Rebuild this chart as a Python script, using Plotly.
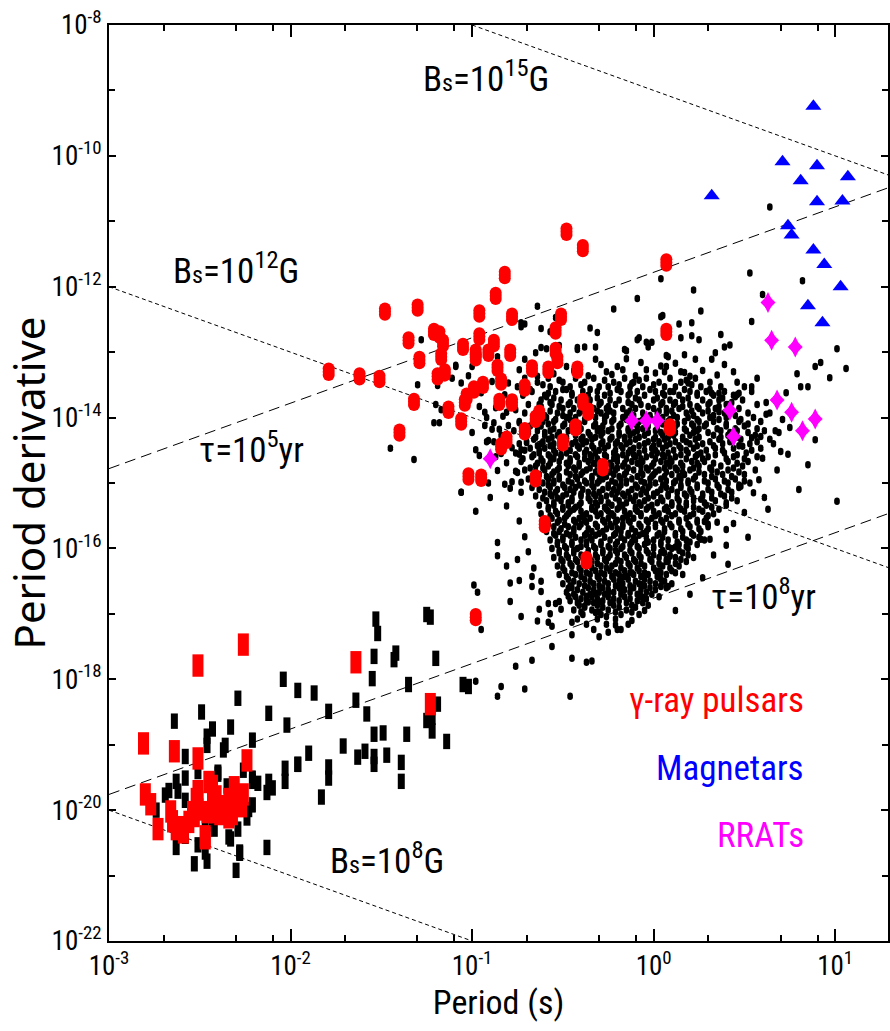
import plotly.graph_objects as go

# ---------------- data (log10 values) ----------------
magnetar_logP = [0.88, 0.71, 0.90, 0.81, 1.07, 0.32, 0.90, 1.04, 0.74, 0.76, 0.88, 0.94, 1.03, 0.85, 0.93]
magnetar_logPdot = [-9.24, -10.09, -10.15, -10.38, -10.32, -10.61, -10.70, -10.69, -11.07, -11.21, -11.44, -11.66, -12.00, -12.29, -12.55]

rrat_logP = [0.63, 0.65, 0.78, 0.68, 0.76, 0.89, 0.82, 0.42, 0.44, -0.12, -0.04, 0.02, -0.90]
rrat_logPdot = [-12.24, -12.82, -12.92, -13.73, -13.92, -14.02, -14.20, -13.89, -14.29, -14.05, -14.05, -14.05, -14.63]

gamma_young = [
    (-1.48, -12.38), (-1.30, -12.32), (-0.82, -11.82), (-0.87, -12.14), (-0.96, -12.41), (-0.78, -12.46),
    (-1.35, -12.82), (-1.21, -12.69), (-1.18, -12.73), (-1.16, -12.86), (-1.29, -13.12), (-1.17, -13.07),
    (-1.19, -13.37), (-1.15, -13.31), (-1.05, -12.92), (-0.96, -12.76), (-0.98, -13.01), (-0.98, -13.08),
    (-0.91, -13.01), (-0.88, -12.86), (-0.79, -13.01), (-0.86, -13.24), (-0.84, -13.45), (-0.71, -13.54),
    (-0.94, -13.50), (-0.99, -13.57), (-1.03, -13.68), (-1.04, -13.77), (-0.85, -13.76), (-0.78, -13.77),
    (-1.13, -13.88), (-1.06, -14.06), (-1.32, -13.76), (-1.79, -13.30), (-1.62, -13.37), (-1.51, -13.41),
    (-1.40, -14.23), (-0.71, -14.21), (-0.81, -14.34), (-0.84, -14.44), (-1.02, -14.90), (-0.95, -14.92),
    (-0.48, -11.16), (-0.39, -11.41), (0.07, -11.63), (-0.51, -12.46), (-0.54, -12.67), (0.07, -12.69),
    (-0.54, -12.98), (-0.53, -13.12), (-0.67, -13.25), (-0.58, -13.27), (-0.42, -13.27), (-0.39, -13.76),
    (-0.36, -13.91), (-0.63, -13.94), (-0.65, -14.02), (-0.43, -14.15), (0.09, -14.15), (-0.50, -14.38),
    (-0.28, -14.76), (-0.65, -14.93), (-0.60, -15.63), (-0.37, -16.18), (-0.98, -17.05),
]

gamma_msp = [
    (-2.26, -17.47), (-2.51, -17.79), (-1.64, -17.74), (-1.23, -18.38), (-2.81, -18.98), (-2.64, -19.10),
    (-2.51, -19.21), (-2.24, -19.24), (-2.80, -19.76), (-2.77, -19.91), (-2.73, -20.29), (-2.47, -20.43),
    (-2.66, -20.02), (-2.65, -20.17), (-2.61, -20.26), (-2.59, -20.34), (-2.52, -19.83), (-2.51, -19.71),
    (-2.51, -19.99), (-2.53, -20.09), (-2.47, -20.40), (-2.43, -19.63), (-2.43, -19.88), (-2.42, -20.03),
    (-2.46, -20.03), (-2.36, -19.94), (-2.39, -20.06), (-2.31, -19.65), (-2.30, -19.80), (-2.27, -19.94),
    (-2.32, -20.06), (-2.34, -20.11), (-2.29, -19.86), (-2.26, -19.76), (-2.34, -19.83), (-2.41, -19.79),
    (-2.54, -20.03), (-2.56, -20.18), (-2.63, -20.29), (-2.45, -19.57),
]

msp = [
    (-1.53, -17.08), (-1.52, -17.30), (-1.25, -17.01), (-1.23, -17.05), (-1.54, -17.65), (-1.42, -17.60),
    (-1.43, -17.70), (-1.20, -17.68), (-2.04, -18.00), (-1.96, -18.17), (-1.87, -18.21), (-2.29, -18.29),
    (-1.55, -17.99), (-1.35, -18.08), (-1.05, -18.08), (-1.02, -18.11), (-2.49, -18.50), (-2.12, -18.52),
    (-2.64, -18.64), (-1.64, -18.32), (-1.58, -18.53), (-1.19, -18.38), (-2.43, -18.76), (-2.33, -18.73),
    (-2.46, -18.87), (-2.46, -19.01), (-2.36, -19.01), (-2.37, -19.08), (-2.21, -18.93), (-2.02, -18.70),
    (-1.79, -18.49), (-1.54, -18.84), (-1.49, -18.82), (-1.36, -18.84), (-1.25, -18.63), (-1.22, -18.58),
    (-1.22, -18.79), (-1.14, -18.95), (-1.71, -19.02), (-1.63, -19.19), (-1.59, -19.10), (-1.54, -19.18),
    (-1.54, -19.30), (-1.47, -19.16), (-1.39, -19.27), (-1.39, -19.56), (-1.90, -19.13), (-1.96, -19.30),
    (-1.79, -19.34), (-1.79, -19.51), (-1.83, -19.80), (-2.03, -19.36), (-2.03, -19.56), (-2.12, -19.56),
    (-2.18, -19.59), (-2.21, -19.56), (-2.26, -19.39), (-2.40, -19.42), (-2.58, -19.18), (-2.58, -19.51),
    (-2.63, -19.56), (-2.67, -19.70), (-2.69, -19.77), (-2.62, -19.71), (-2.58, -19.85), (-2.74, -20.00),
    (-2.21, -19.92), (-2.23, -19.99), (-2.24, -20.12), (-2.42, -20.29), (-2.33, -20.44), (-2.13, -20.57),
    (-2.28, -20.66), (-2.63, -20.57), (-2.58, -20.40), (-2.51, -20.53), (-2.47, -20.64), (-2.46, -20.78),
    (-2.53, -20.82), (-2.30, -20.92), (-2.51, -19.41), (-2.52, -19.83), (-2.47, -20.24), (-2.13, -19.73),
    (-2.10, -19.66), (-1.96, -19.30), (-2.28, -20.64), (-2.29, -20.29), (-2.34, -20.41), (-2.21, -19.51),
    (-2.35, -19.63), (-2.40, -19.45), (-2.50, -19.83), (-2.43, -20.21),
]

normal_sparse = [
    (0.64, -10.78), (0.53, -11.79), (0.82, -11.91), (0.60, -12.12), (0.04, -11.88), (0.22, -12.05),
    (-0.09, -12.18), (0.26, -12.37), (0.04, -12.46), (0.54, -12.53), (0.14, -12.57), (0.21, -12.55),
    (-0.08, -12.78), (0.07, -13.05), (0.15, -12.78), (0.21, -12.75), (0.25, -12.81), (0.37, -12.73),
    (0.42, -12.89), (0.39, -12.92), (0.34, -13.01), (0.32, -13.11), (0.39, -13.19), (0.23, -13.11),
    (1.01, -12.95), (1.06, -13.25), (0.92, -13.16), (0.89, -13.22), (0.97, -13.39), (0.79, -13.33),
    (0.81, -13.53), (0.85, -13.53), (0.57, -13.40), (0.54, -13.53), (0.62, -13.77), (0.59, -14.29),
    (0.54, -14.31), (0.49, -14.44), (0.70, -14.52), (0.67, -14.20), (0.69, -14.23), (0.73, -13.62),
    (0.32, -13.63), (0.36, -13.63), (0.40, -13.80), (0.36, -13.91), (0.45, -13.68), (0.50, -13.53),
    (0.46, -13.65), (0.17, -13.31), (0.09, -13.60), (0.07, -13.22), (-0.01, -12.85), (-0.03, -12.92),
    (-0.15, -13.10), (-0.07, -13.16), (-0.04, -13.27), (-0.17, -13.27), (-0.12, -13.48),
    (-0.64, -12.30), (-0.22, -12.34), (-0.73, -12.61), (-0.71, -12.57), (-0.62, -12.64), (-0.35, -12.63),
    (-0.31, -12.70), (-0.57, -12.69), (-0.32, -12.92), (-0.38, -12.92), (-0.42, -12.93), (-0.62, -12.93),
    (-0.65, -13.01), (-0.04, -12.85), (-0.15, -12.98), (0.17, -13.04), (0.08, -13.07), (0.06, -13.30),
    (0.15, -13.30), (0.19, -13.47), (-0.54, -12.47), (-0.52, -12.90), (-0.59, -12.95), (-0.48, -13.22),
    (-0.42, -12.96), (-0.32, -13.11), (-0.26, -13.30), (-0.20, -13.22), (-0.16, -12.96), (-0.09, -12.81),
    (0.05, -12.44), (0.04, -13.21), (0.20, -13.37),
    (-1.28, -12.81), (-1.30, -13.50), (-1.45, -14.47), (-1.32, -14.64), (-1.21, -14.08), (-1.18, -14.08),
    (-1.19, -13.51), (-1.17, -13.88), (-1.09, -13.22), (-1.02, -13.36), (-1.00, -14.23), (-0.98, -14.49),
    (-0.92, -14.37), (-0.88, -14.37), (-0.87, -14.60), (-0.82, -15.02), (-1.06, -15.14), (-0.90, -15.22),
    (-0.76, -14.82), (-0.73, -13.53), (-0.74, -13.27), (-0.71, -13.11), (-0.73, -12.55), (-0.64, -13.37),
    (-0.63, -13.80), (-0.59, -13.68), (-0.68, -13.57), (-0.58, -13.30), (-0.48, -13.57), (-1.11, -13.40),
    (-1.09, -13.20), (-1.06, -13.47), (-1.00, -13.22), (-1.20, -13.80), (-0.91, -14.35), (-0.89, -14.18),
    (-0.85, -14.18), (-0.81, -14.69), (-0.75, -14.84), (-0.73, -14.99), (-0.73, -15.14), (-0.74, -14.56),
    (-0.73, -14.49), (-0.70, -14.38), (-0.81, -13.92), (-0.76, -13.88), (-0.74, -14.08), (-0.92, -14.00),
    (-0.96, -13.83), (-0.93, -13.92), (-0.88, -14.08), (-0.82, -13.65), (-0.80, -13.47), (-0.86, -13.07),
    (-0.89, -13.45), (-0.80, -13.77),
    (-1.06, -15.14), (-0.98, -15.43), (-0.95, -17.24), (-0.99, -16.56), (-0.97, -16.67), (-0.86, -15.91),
    (-0.86, -16.11), (-0.81, -16.27), (-0.75, -16.17), (-0.79, -16.53), (-0.74, -16.49), (-0.79, -16.81),
    (-0.73, -17.04), (-0.67, -16.43), (-0.67, -16.58), (-0.62, -16.50), (-0.63, -16.93), (-0.64, -17.11),
    (-0.58, -16.84), (-0.58, -17.13), (-0.56, -17.19), (-0.54, -16.84), (-0.52, -16.81), (-0.56, -17.50),
    (-0.45, -17.13), (-0.45, -17.68), (-0.37, -17.74), (-0.34, -17.72), (-0.76, -17.80), (-0.67, -17.71),
    (-0.71, -18.15), (-0.84, -18.11), (-0.86, -18.26), (-0.46, -18.26), (-0.98, -18.03), (-0.25, -17.28),
    (-0.21, -17.17), (-0.18, -17.24), (-0.26, -17.04), (-0.32, -16.98), (-0.38, -16.88), (-0.36, -16.82),
    (-0.29, -16.82), (-0.07, -16.73), (-0.06, -16.75), (0.04, -16.58), (0.08, -16.58), (0.03, -16.44),
    (0.03, -16.34), (-0.07, -16.55), (0.07, -16.20), (0.09, -16.12), (0.12, -15.98), (0.04, -16.06),
    (0.26, -15.86), (0.31, -15.86), (0.41, -16.24), (0.40, -15.71), (0.52, -15.83), (0.48, -15.05),
    (0.26, -15.25), (0.28, -15.59), (-0.04, -15.91), (-0.12, -16.37), (-0.17, -16.44), (-0.18, -16.63),
    (-0.25, -16.67), (-0.32, -16.69), (-0.37, -16.73), (-0.47, -16.61), (-0.47, -16.73), (-0.51, -16.93),
    (1.01, -15.28), (0.58, -14.95), (0.74, -14.56), (0.80, -15.10), (0.63, -15.40), (0.89, -14.34),
    (0.85, -14.72), (0.71, -14.03),
    (-0.95, -13.62), (-0.87, -13.85), (-0.93, -14.12), (-0.84, -14.27), (-0.96, -14.58), (-0.86, -14.81),
    (-0.79, -15.08), (-0.91, -15.00), (-0.78, -14.46), (-0.83, -13.98),
]

normal_edge = [
    (-0.66, -13.18), (-0.55, -13.33), (-0.44, -13.28), (-0.36, -13.36), (-0.29, -13.19), (-0.23, -13.34),
    (-0.10, -13.36), (0.01, -13.32), (0.12, -13.17), (0.27, -13.28), (0.35, -13.35), (0.44, -13.30),
    (-0.80, -14.12), (-0.84, -14.55), (-0.78, -14.98), (-0.81, -15.35), (-0.74, -15.58), (-0.71, -15.82),
    (-0.69, -16.05), (-0.66, -16.30), (-0.62, -16.66), (-0.57, -17.00), (-0.77, -13.70), (-0.85, -14.40),
    (0.62, -13.95), (0.66, -14.40), (0.60, -14.62), (0.68, -14.80), (0.55, -15.15), (0.61, -15.22),
    (0.50, -15.45), (0.44, -15.62), (0.40, -15.95), (0.33, -16.10), (0.27, -16.45), (0.20, -16.70),
    (0.12, -16.95), (0.75, -14.15), (-0.30, -17.35), (-0.12, -17.10), (-0.05, -16.95), (-0.45, -17.32),
]

normal_core_rows = [
    (-13.40, [-0.71, -0.58, -0.43, -0.33, -0.16, -0.04, 0.09, 0.23]),
    (-13.46, [-0.64, -0.50, -0.38, -0.22, -0.11, 0.03, 0.15, 0.31, 0.46]),
    (-13.53, [-0.75, -0.57, -0.46, -0.30, -0.25, -0.13, -0.06, 0.06, 0.12, 0.26, 0.37]),
    (-13.60, [-0.67, -0.54, -0.39, -0.31, -0.18, -0.09, 0.01, 0.11, 0.20, 0.29, 0.39, 0.54]),
    (-13.66, [-0.72, -0.60, -0.45, -0.36, -0.27, -0.14, -0.05, 0.06, 0.14, 0.24, 0.33, 0.44]),
    (-13.73, [-0.62, -0.51, -0.42, -0.35, -0.24, -0.19, -0.08, 0.00, 0.09, 0.16, 0.27, 0.36, 0.49]),
    (-13.80, [-0.69, -0.56, -0.47, -0.38, -0.30, -0.21, -0.12, -0.07, 0.04, 0.11, 0.20, 0.30, 0.41, 0.57]),
    (-13.86, [-0.63, -0.50, -0.44, -0.33, -0.26, -0.17, -0.10, 0.00, 0.07, 0.14, 0.25, 0.34, 0.47]),
    (-13.93, [-0.71, -0.65, -0.53, -0.46, -0.41, -0.29, -0.22, -0.15, -0.06, 0.02, 0.07, 0.18, 0.27, 0.39, 0.52, 0.64]),
    (-14.00, [-0.66, -0.59, -0.48, -0.43, -0.32, -0.27, -0.17, -0.12, -0.02, 0.05, 0.13, 0.19, 0.31, 0.40, 0.55]),
    (-14.06, [-0.74, -0.61, -0.55, -0.44, -0.38, -0.27, -0.23, -0.13, -0.08, 0.03, 0.08, 0.17, 0.25, 0.33, 0.47, 0.59]),
    (-14.13, [-0.68, -0.62, -0.50, -0.45, -0.33, -0.28, -0.19, -0.09, -0.03, 0.07, 0.12, 0.22, 0.28, 0.40, 0.50]),
    (-14.20, [-0.77, -0.64, -0.57, -0.47, -0.41, -0.31, -0.25, -0.14, -0.09, 0.01, 0.07, 0.18, 0.24, 0.37, 0.46, 0.61]),
    (-14.27, [-0.70, -0.60, -0.53, -0.43, -0.35, -0.29, -0.19, -0.13, -0.05, 0.05, 0.11, 0.20, 0.33, 0.41, 0.56]),
    (-14.33, [-0.66, -0.58, -0.48, -0.40, -0.34, -0.24, -0.16, -0.10, 0.00, 0.06, 0.16, 0.23, 0.36, 0.48, 0.64]),
    (-14.40, [-0.74, -0.62, -0.55, -0.45, -0.39, -0.29, -0.21, -0.15, -0.05, 0.03, 0.09, 0.20, 0.27, 0.38, 0.53]),
    (-14.47, [-0.68, -0.60, -0.51, -0.41, -0.33, -0.27, -0.17, -0.11, -0.01, 0.05, 0.15, 0.22, 0.34, 0.44, 0.59]),
    (-14.54, [-0.76, -0.63, -0.54, -0.48, -0.38, -0.32, -0.22, -0.14, -0.08, 0.02, 0.08, 0.19, 0.26, 0.39, 0.51]),
    (-14.60, [-0.67, -0.57, -0.51, -0.42, -0.34, -0.26, -0.20, -0.10, -0.04, 0.06, 0.12, 0.23, 0.30, 0.44, 0.57]),
    (-14.67, [-0.73, -0.61, -0.52, -0.46, -0.36, -0.30, -0.20, -0.12, -0.06, 0.04, 0.10, 0.21, 0.28, 0.41, 0.52]),
    (-14.74, [-0.65, -0.58, -0.47, -0.41, -0.31, -0.23, -0.17, -0.07, -0.01, 0.09, 0.16, 0.25, 0.37, 0.49]),
    (-14.80, [-0.71, -0.60, -0.53, -0.43, -0.37, -0.27, -0.21, -0.11, -0.03, 0.03, 0.13, 0.20, 0.32, 0.41, 0.56]),
    (-14.87, [-0.63, -0.56, -0.46, -0.40, -0.30, -0.22, -0.16, -0.06, 0.00, 0.10, 0.17, 0.28, 0.38, 0.50]),
    (-14.94, [-0.69, -0.58, -0.52, -0.42, -0.34, -0.28, -0.18, -0.12, -0.02, 0.04, 0.15, 0.22, 0.34, 0.45]),
    (-15.00, [-0.61, -0.55, -0.45, -0.37, -0.31, -0.21, -0.15, -0.05, 0.01, 0.11, 0.19, 0.30, 0.41, 0.53]),
    (-15.07, [-0.67, -0.57, -0.49, -0.43, -0.33, -0.25, -0.19, -0.09, -0.03, 0.07, 0.15, 0.24, 0.36, 0.47]),
    (-15.14, [-0.60, -0.54, -0.44, -0.36, -0.30, -0.20, -0.14, -0.04, 0.02, 0.13, 0.21, 0.32, 0.43]),
    (-15.20, [-0.65, -0.56, -0.50, -0.40, -0.32, -0.26, -0.16, -0.10, 0.00, 0.08, 0.18, 0.27, 0.39]),
    (-15.27, [-0.59, -0.51, -0.45, -0.35, -0.29, -0.19, -0.11, -0.05, 0.05, 0.14, 0.22, 0.34, 0.46]),
    (-15.34, [-0.63, -0.55, -0.47, -0.41, -0.31, -0.23, -0.17, -0.07, -0.01, 0.10, 0.18, 0.29, 0.40]),
    (-15.40, [-0.58, -0.50, -0.44, -0.34, -0.26, -0.20, -0.10, -0.04, 0.06, 0.15, 0.25, 0.36]),
    (-15.47, [-0.62, -0.53, -0.47, -0.37, -0.29, -0.23, -0.13, -0.07, 0.03, 0.12, 0.22, 0.33]),
    (-15.54, [-0.56, -0.49, -0.41, -0.35, -0.25, -0.17, -0.11, -0.01, 0.07, 0.18, 0.29]),
    (-15.60, [-0.61, -0.53, -0.43, -0.37, -0.27, -0.21, -0.13, -0.03, 0.05, 0.14, 0.24, 0.35]),
    (-15.67, [-0.55, -0.47, -0.41, -0.31, -0.23, -0.17, -0.07, 0.01, 0.10, 0.20, 0.30]),
    (-15.74, [-0.59, -0.52, -0.44, -0.34, -0.28, -0.18, -0.10, -0.04, 0.06, 0.16, 0.26]),
    (-15.80, [-0.54, -0.46, -0.38, -0.32, -0.22, -0.14, -0.08, 0.02, 0.12, 0.22]),
    (-15.87, [-0.57, -0.50, -0.40, -0.34, -0.24, -0.16, -0.10, 0.00, 0.08, 0.18, 0.28]),
    (-15.94, [-0.53, -0.45, -0.37, -0.29, -0.21, -0.13, -0.05, 0.04, 0.14, 0.24]),
    (-16.00, [-0.56, -0.48, -0.42, -0.32, -0.24, -0.18, -0.08, 0.00, 0.10, 0.19]),
    (-16.07, [-0.52, -0.44, -0.36, -0.28, -0.20, -0.12, -0.03, 0.06, 0.16]),
    (-16.14, [-0.55, -0.47, -0.39, -0.31, -0.25, -0.15, -0.07, 0.03, 0.12, 0.22]),
    (-16.20, [-0.50, -0.42, -0.34, -0.26, -0.18, -0.10, -0.01, 0.08, 0.18]),
    (-16.27, [-0.53, -0.45, -0.37, -0.29, -0.23, -0.13, -0.05, 0.05, 0.14]),
    (-16.34, [-0.49, -0.40, -0.32, -0.24, -0.16, -0.08, 0.01, 0.10]),
    (-16.40, [-0.52, -0.43, -0.35, -0.27, -0.19, -0.11, -0.03, 0.07, 0.16]),
    (-16.47, [-0.47, -0.38, -0.30, -0.22, -0.14, -0.05, 0.04]),
    (-16.54, [-0.50, -0.41, -0.33, -0.25, -0.17, -0.08, 0.01, 0.10]),
    (-16.60, [-0.45, -0.36, -0.28, -0.19, -0.11, -0.02, 0.07]),
    (-16.67, [-0.48, -0.39, -0.30, -0.22, -0.13, -0.04]),
    (-16.74, [-0.43, -0.34, -0.25, -0.16, -0.07, 0.03]),
    (-16.80, [-0.46, -0.37, -0.28, -0.19, -0.09]),
    (-16.87, [-0.41, -0.31, -0.22, -0.12, -0.03]),
    (-16.94, [-0.44, -0.34, -0.25, -0.15]),
    (-17.01, [-0.39, -0.29, -0.18, -0.08]),
    (-17.08, [-0.42, -0.31, -0.21]),
    (-17.16, [-0.37, -0.26, -0.14]),
    (-17.24, [-0.33, -0.20]),
]

normal_core_rows_b = [
    (-13.43, [-0.52, -0.27, -0.08, 0.18]),
    (-13.50, [-0.61, -0.40, -0.19, 0.00, 0.21]),
    (-13.57, [-0.50, -0.35, -0.20, -0.02, 0.17, 0.31]),
    (-13.63, [-0.58, -0.45, -0.24, -0.13, 0.05, 0.24, 0.47]),
    (-13.70, [-0.55, -0.40, -0.31, -0.10, 0.02, 0.19, 0.38]),
    (-13.77, [-0.57, -0.46, -0.29, -0.14, 0.05, 0.12, 0.31, 0.43]),
    (-13.83, [-0.62, -0.52, -0.35, -0.25, -0.03, 0.16, 0.24, 0.36]),
    (-13.90, [-0.57, -0.40, -0.31, -0.24, -0.13, 0.03, 0.10, 0.21, 0.30, 0.42]),
    (-13.97, [-0.60, -0.50, -0.36, -0.26, -0.11, -0.02, 0.11, 0.22, 0.33, 0.45]),
    (-14.03, [-0.63, -0.54, -0.46, -0.38, -0.22, -0.15, -0.06, 0.01, 0.09, 0.24, 0.36, 0.48]),
    (-14.10, [-0.58, -0.49, -0.41, -0.32, -0.18, -0.10, 0.05, 0.13, 0.21, 0.29, 0.40, 0.52]),
    (-14.17, [-0.72, -0.55, -0.40, -0.30, -0.23, -0.14, -0.06, 0.02, 0.17, 0.25, 0.35, 0.45, 0.57]),
    (-14.23, [-0.69, -0.60, -0.52, -0.43, -0.36, -0.28, -0.19, -0.11, -0.03, 0.04, 0.12, 0.22, 0.30, 0.42, 0.52]),
    (-14.30, [-0.65, -0.56, -0.48, -0.39, -0.32, -0.23, -0.16, -0.08, 0.01, 0.08, 0.16, 0.25, 0.37, 0.46]),
    (-14.37, [-0.70, -0.61, -0.51, -0.43, -0.37, -0.28, -0.20, -0.13, -0.03, 0.03, 0.12, 0.18, 0.31, 0.42, 0.57]),
    (-14.43, [-0.64, -0.57, -0.49, -0.42, -0.34, -0.25, -0.18, -0.08, 0.00, 0.07, 0.14, 0.24, 0.33, 0.47]),
    (-14.50, [-0.71, -0.63, -0.55, -0.46, -0.37, -0.30, -0.21, -0.13, -0.05, 0.01, 0.11, 0.18, 0.29, 0.38, 0.54]),
    (-14.57, [-0.66, -0.58, -0.51, -0.43, -0.35, -0.27, -0.17, -0.11, -0.01, 0.05, 0.15, 0.24, 0.34, 0.46]),
    (-14.63, [-0.72, -0.62, -0.55, -0.46, -0.38, -0.31, -0.22, -0.15, -0.07, 0.01, 0.09, 0.18, 0.27, 0.40, 0.50]),
    (-14.70, [-0.64, -0.57, -0.48, -0.41, -0.33, -0.24, -0.16, -0.09, 0.00, 0.07, 0.15, 0.24, 0.33, 0.46]),
    (-14.77, [-0.68, -0.61, -0.52, -0.44, -0.35, -0.28, -0.20, -0.14, -0.04, 0.06, 0.12, 0.22, 0.31, 0.44]),
    (-14.83, [-0.65, -0.55, -0.48, -0.39, -0.32, -0.24, -0.15, -0.07, 0.01, 0.07, 0.16, 0.25, 0.35, 0.47]),
    (-14.90, [-0.59, -0.52, -0.43, -0.34, -0.26, -0.19, -0.09, -0.01, 0.06, 0.14, 0.23, 0.32, 0.43]),
    (-14.97, [-0.65, -0.55, -0.47, -0.38, -0.30, -0.23, -0.15, -0.07, 0.07, 0.12, 0.19, 0.28, 0.39, 0.50]),
    (-15.03, [-0.58, -0.50, -0.41, -0.34, -0.25, -0.18, -0.10, -0.02, 0.05, 0.15, 0.24, 0.35, 0.47]),
    (-15.10, [-0.63, -0.53, -0.46, -0.39, -0.28, -0.22, -0.12, -0.06, 0.04, 0.10, 0.20, 0.30, 0.41]),
    (-15.17, [-0.57, -0.48, -0.40, -0.33, -0.23, -0.17, -0.07, 0.00, 0.08, 0.17, 0.27, 0.37]),
    (-15.23, [-0.61, -0.53, -0.45, -0.36, -0.29, -0.21, -0.13, -0.03, 0.04, 0.13, 0.22, 0.32, 0.43]),
    (-15.30, [-0.55, -0.47, -0.40, -0.32, -0.25, -0.15, -0.08, 0.02, 0.10, 0.18, 0.28, 0.40]),
    (-15.37, [-0.58, -0.50, -0.43, -0.34, -0.27, -0.19, -0.10, -0.03, 0.07, 0.14, 0.22, 0.32]),
    (-15.43, [-0.54, -0.46, -0.40, -0.32, -0.25, -0.16, -0.09, 0.00, 0.08, 0.17, 0.27]),
    (-15.50, [-0.57, -0.48, -0.39, -0.31, -0.22, -0.15, -0.07, 0.01, 0.10, 0.20, 0.30]),
    (-15.57, [-0.52, -0.44, -0.38, -0.28, -0.20, -0.14, -0.04, 0.04, 0.14, 0.24]),
    (-15.63, [-0.58, -0.49, -0.40, -0.32, -0.24, -0.17, -0.08, 0.01, 0.09, 0.19, 0.30]),
    (-15.70, [-0.51, -0.44, -0.36, -0.26, -0.20, -0.12, -0.03, 0.06, 0.15, 0.25]),
    (-15.77, [-0.55, -0.48, -0.37, -0.30, -0.21, -0.14, -0.06, 0.03, 0.12, 0.21]),
    (-15.83, [-0.50, -0.43, -0.35, -0.27, -0.18, -0.11, -0.04, 0.05, 0.16, 0.25]),
    (-15.90, [-0.53, -0.45, -0.37, -0.29, -0.20, -0.12, -0.03, 0.04, 0.13, 0.20]),
    (-15.97, [-0.49, -0.40, -0.33, -0.25, -0.17, -0.09, 0.00, 0.08, 0.18]),
    (-16.03, [-0.52, -0.44, -0.36, -0.28, -0.21, -0.13, -0.04, 0.05, 0.14]),
    (-16.10, [-0.48, -0.40, -0.32, -0.24, -0.16, -0.08, 0.00, 0.09, 0.19]),
    (-16.17, [-0.51, -0.43, -0.35, -0.27, -0.20, -0.11, -0.02, 0.07, 0.15]),
    (-16.23, [-0.46, -0.38, -0.31, -0.21, -0.14, -0.07, 0.03, 0.12]),
    (-16.30, [-0.50, -0.41, -0.34, -0.26, -0.18, -0.09, 0.00, 0.09]),
    (-16.37, [-0.45, -0.37, -0.29, -0.21, -0.13, -0.05, 0.04, 0.12]),
    (-16.43, [-0.48, -0.40, -0.31, -0.23, -0.15, -0.07, 0.02]),
    (-16.50, [-0.44, -0.35, -0.27, -0.19, -0.10, -0.02, 0.06]),
    (-16.57, [-0.46, -0.38, -0.30, -0.21, -0.13, -0.05, 0.04]),
    (-16.63, [-0.42, -0.33, -0.25, -0.16, -0.07, 0.01]),
    (-16.70, [-0.44, -0.35, -0.27, -0.18, -0.09, -0.01]),
    (-16.77, [-0.40, -0.31, -0.22, -0.13, -0.04]),
    (-16.83, [-0.42, -0.33, -0.24, -0.15, -0.06]),
    (-16.90, [-0.38, -0.28, -0.19, -0.10]),
    (-16.97, [-0.40, -0.30, -0.21, -0.12]),
]

line_B15 = ([-1.0, 1.3], [-8.0, -10.3])
line_B12 = ([-3.0, 1.3], [-12.0, -16.3])
line_B8 = ([-3.0, -1.0], [-20.0, -22.0])
line_tau5 = ([-3.0, 1.3], [-14.78, -10.48])
line_tau8 = ([-3.0, 1.3], [-19.76, -15.46])

x_tick_exp = [-3, -2, -1, 0, 1]
y_label_exp = [-22, -20, -18, -16, -14, -12, -10, -8]
y_minor_exp = [-21, -19, -17, -15, -13, -11, -9]

# ---------------- build figure ----------------
def lin(v):
    return [10 ** a for a in v]

def split(pairs):
    return lin([p[0] for p in pairs]), lin([p[1] for p in pairs])

fig = go.Figure()

def add_line(seg, dash):
    fig.add_trace(go.Scatter(x=lin(seg[0]), y=lin(seg[1]), mode="lines",
                             line=dict(color="black", width=1, dash=dash),
                             showlegend=False, hoverinfo="skip"))

add_line(line_B15, "4px,3px")
add_line(line_B12, "4px,3px")
add_line(line_B8, "4px,3px")
add_line(line_tau5, "11px,6px")
add_line(line_tau8, "11px,6px")

def add_markers(xs, ys, symbol, size, color, lw=0, angle=0, standoff=0):
    fig.add_trace(go.Scatter(x=xs, y=ys, mode="markers",
                             marker=dict(symbol=symbol, size=size, color=color,
                                         angle=angle, standoff=standoff,
                                         line=dict(width=lw, color=color)),
                             showlegend=False, hoverinfo="skip", cliponaxis=True))

def add_ellipses(xs, ys, size, shift, color, center=False):
    # vertical ellipse: overlapping circles offset up / down (and one centred)
    add_markers(xs, ys, "circle", size, color, angle=0, standoff=shift)
    add_markers(xs, ys, "circle", size, color, angle=180, standoff=shift)
    if center:
        add_markers(xs, ys, "circle", size, color)

core_pairs = [(lp, row[0]) for row in normal_core_rows + normal_core_rows_b for lp in row[1]]
nx, ny = split(normal_sparse + normal_edge + core_pairs)
add_ellipses(nx, ny, 5.5, 1, "black")

mx, my = split(msp)
add_markers(mx, my, "line-ns", 11, "black", lw=7)
gx, gy = split(gamma_msp)
add_markers(gx, gy, "line-ns", 16, "#ff0000", lw=11)

yx, yy = split(gamma_young)
add_ellipses(yx, yy, 12, 3.2, "#ff0000", center=True)

rx, ry = lin(rrat_logP), lin(rrat_logPdot)
add_markers(rx, ry, "diamond", 11.5, "#ff00ff")
add_markers(rx, ry, "diamond-tall", 15, "#ff00ff")

ax_, ay_ = lin(magnetar_logP), lin(magnetar_logPdot)
add_markers(ax_, ay_, "triangle-up", 14, "#0000ff")

NARROW = "Roboto Condensed, Liberation Sans, Arial, sans-serif"

x_minor = [m * 10 ** d for d in range(-3, 2) for m in (2, 5, 8) if m * 10 ** d < 19]

fig.update_xaxes(
    type="log", range=[-3, 1.291],
    showline=True, linecolor="black", linewidth=2, mirror="ticks",
    ticks="inside", ticklen=12, tickwidth=1.5, tickcolor="black",
    tickvals=[10 ** e for e in x_tick_exp],
    ticktext=[f"10<sup>{e}</sup>" for e in x_tick_exp],
    tickfont=dict(family=NARROW, size=27, color="black", weight=400),
    minor=dict(ticks="inside", ticklen=6, tickwidth=1.5, tickcolor="black", tickvals=x_minor),
    showgrid=False, zeroline=False,
    title=dict(text="Period (s)", font=dict(family=NARROW, size=34, color="black", weight=400), standoff=2),
)
fig.update_yaxes(
    type="log", range=[-22, -8],
    showline=True, linecolor="black", linewidth=2, mirror="ticks",
    ticks="inside", ticklen=7, tickwidth=1.5, tickcolor="black",
    tickvals=[10 ** e for e in y_label_exp],
    ticktext=[f"10<sup>{e}</sup>" for e in y_label_exp],
    tickfont=dict(family=NARROW, size=27, color="black", weight=400),
    minor=dict(ticks="inside", ticklen=6, tickwidth=1.5, tickcolor="black",
               tickvals=[10 ** e for e in y_minor_exp]),
    showgrid=False, zeroline=False,
    title=dict(text="Period derivative", font=dict(family="Noto Sans, Liberation Sans, Arial", size=42, color="black"), standoff=8),
)

def px_x(p):
    return (p - 109) / 781.0

def px_y(p):
    return (941 - p) / 916.0

BS = 'B<span style="font-size:24px">s</span>'
annos = [
    (BS + "=10<sup>15</sup>G", 487, 76, "center", "black"),
    (BS + "=10<sup>12</sup>G", 236, 268, "center", "black"),
    ("τ=10<sup>5</sup>yr", 252, 447, "center", "black"),
    ("τ=10<sup>8</sup>yr", 765, 594, "center", "black"),
    (BS + "=10<sup>8</sup>G", 388, 858, "center", "black"),
    ("γ-ray pulsars", 808, 700, "right", "#ff0000"),
    ("Magnetars", 808, 768, "right", "#0000ff"),
    ("RRATs", 808, 835, "right", "#ff00ff"),
]
for text, x, y, anchor, col in annos:
    fig.add_annotation(text=text, x=px_x(x), y=px_y(y), xref="paper", yref="paper",
                       xanchor=anchor, yanchor="middle", showarrow=False,
                       font=dict(family=NARROW, size=35, color=col, weight=400))

fig.update_layout(
    width=890, height=1031,
    margin=dict(l=109, r=0, t=25, b=90),
    paper_bgcolor="white", plot_bgcolor="white",
    font=dict(family=NARROW, color="black"),
    showlegend=False,
)

fig.write_html("out.html")
